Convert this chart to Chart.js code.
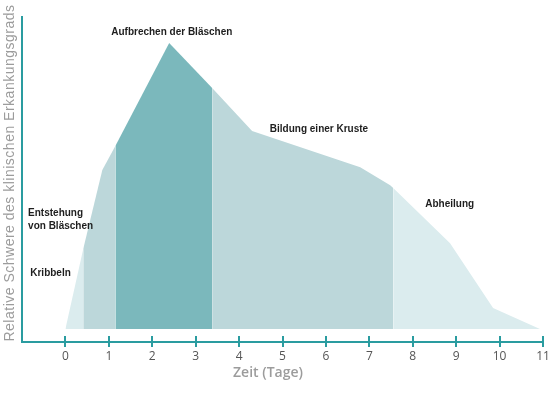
<!DOCTYPE html>
<html>
<head>
<meta charset="utf-8">
<script src="https://cdn.jsdelivr.net/npm/chart.js@4.4.1/dist/chart.umd.min.js"></script>
<style>
  html, body { margin: 0; padding: 0; background: #fff; }
  #wrap { width: 554px; height: 398px; position: relative; }
</style>
</head>
<body>
<div id="wrap"><canvas id="chart"></canvas></div>
<script>
// x ticks (days)
const dayTicks = [0, 1, 2, 3, 4, 5, 6, 7, 8, 9, 10, 11];

// outline of each phase: [day, relative severity]
const kribbeln    = [[0, 0], [0.41, 2.8]];
const entstehung  = [[0.41, 2.8], [0.85, 5.56], [1.15, 6.4]];
const aufbrechen  = [[1.15, 6.4], [2.39, 10], [3.38, 8.43]];
const kruste      = [[3.38, 8.43], [4.3, 6.92], [6.79, 5.66], [7.48, 5.03], [7.55, 4.93]];
const abheilung   = [[7.55, 4.93], [8.86, 3.0], [9.85, 0.73], [10.93, 0]];

const phaseNames  = ['Kribbeln', 'Entstehung von Bläschen', 'Aufbrechen der Bläschen', 'Bildung einer Kruste', 'Abheilung'];
const phaseColors = ['#dbecee', '#bcd7da', '#7bb8bc', '#bcd7da', '#dbecee'];

// phase labels: [text lines, day, severity, align]
const labelTexts  = [['Kribbeln'], ['Entstehung', 'von Bläschen'], ['Aufbrechen der Bläschen'], ['Bildung einer Kruste'], ['Abheilung']];
const labelDays   = [-0.81, -0.86, 2.45, 5.84, 8.85];
const labelLevels = [1.96, 4.06, 10.38, 7.0, 4.36];
const labelAlign  = ['left', 'left', 'center', 'center', 'center'];

const teal = '#2a9ca0';

const phases = [kribbeln, entstehung, aufbrechen, kruste, abheilung];

const datasets = phases.map((pts, i) => ({
    label: phaseNames[i],
    data: pts.map(p => ({ x: p[0], y: p[1] })),
    backgroundColor: phaseColors[i],
    borderWidth: 0,
    pointRadius: 0,
    fill: 'origin',
    tension: 0
}));

// draws the crossing tick marks, phase labels and axis titles
const decorations = {
    id: 'decorations',
    afterDatasetsDraw(chart) {
        const ctx = chart.ctx;
        const xs = chart.scales.x;
        const ys = chart.scales.y;
        ctx.save();

        // tick marks that cross the axis
        ctx.strokeStyle = teal;
        ctx.lineWidth = 2;
        dayTicks.forEach(d => {
            const px = Math.round(xs.getPixelForValue(d));
            ctx.beginPath();
            ctx.moveTo(px, ys.bottom - 6);
            ctx.lineTo(px, ys.bottom + 5);
            ctx.stroke();
        });

        // phase labels
        ctx.fillStyle = '#1e1e1e';
        ctx.font = 'bold 10px "Liberation Sans", Arial, sans-serif';
        ctx.textBaseline = 'middle';
        labelTexts.forEach((lines, i) => {
            ctx.textAlign = labelAlign[i];
            const px = xs.getPixelForValue(labelDays[i]);
            const py = ys.getPixelForValue(labelLevels[i]);
            lines.forEach((t, j) => ctx.fillText(t, px, py + j * 13));
        });

        // axis titles
        ctx.fillStyle = '#9c9c9c';
        ctx.textAlign = 'center';
        ctx.font = '600 14px "Open Sans", sans-serif';
        ctx.fillText('Zeit (Tage)', 268, 373);
        ctx.font = '14px "Liberation Sans", Arial, sans-serif';
        ctx.letterSpacing = '0.5px';
        ctx.translate(10, 173);
        ctx.rotate(-Math.PI / 2);
        ctx.fillText('Relative Schwere des klinischen Erkankungsgrads', 0, 0);
        ctx.restore();
    }
};

new Chart(document.getElementById('chart'), {
    type: 'line',
    data: { datasets: datasets },
    options: {
        responsive: true,
        maintainAspectRatio: false,
        animation: false,
        layout: { padding: { left: 0, right: 11, top: 17, bottom: 0 } },
        plugins: {
            legend: { display: false },
            tooltip: { enabled: false }
        },
        scales: {
            x: {
                type: 'linear',
                min: -1,
                max: 11,
                afterBuildTicks: scale => { scale.ticks = dayTicks.map(v => ({ value: v })); },
                afterFit: scale => {
                    scale.height = 56;
                    scale.paddingLeft = 0;
                    scale.paddingRight = 0;
                },
                grid: { display: false, drawTicks: false },
                border: { display: true, color: teal, width: 2 },
                ticks: {
                    padding: 7,
                    color: '#555',
                    font: { family: '"Open Sans", sans-serif', size: 12 }
                }
            },
            y: {
                min: -0.455,
                max: 10.91,
                afterFit: scale => { scale.width = 22; },
                grid: { display: false, drawTicks: false },
                border: { display: true, color: teal, width: 2 },
                ticks: { display: false }
            }
        }
    },
    plugins: [decorations]
});
</script>
</body>
</html>
